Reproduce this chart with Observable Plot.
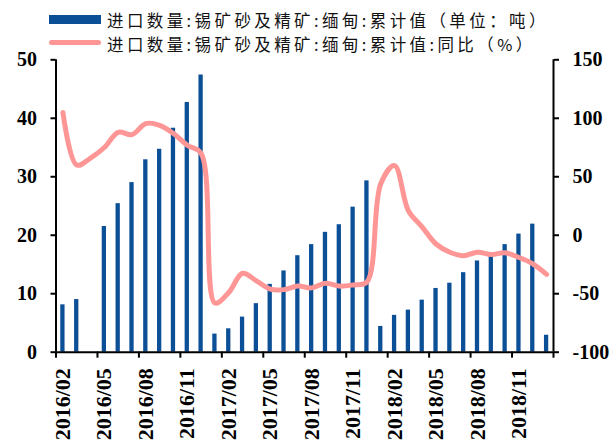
<!DOCTYPE html>
<html><head><meta charset="utf-8">
<script src="https://cdn.jsdelivr.net/npm/d3@7"></script>
<script src="https://cdn.jsdelivr.net/npm/@observablehq/plot@0.6"></script>
<style>
body{margin:0;background:#fff;}
#wrap{position:relative;width:616px;height:445px;overflow:hidden;}
.row{position:absolute;left:0;height:24px;width:616px;}
.sw{position:absolute;}
.lt{position:absolute;left:107px;top:0;font-family:"Noto Sans CJK SC",sans-serif;font-size:16.5px;letter-spacing:3.4px;line-height:24px;color:#111;white-space:nowrap;}
</style></head><body>
<div id="wrap"></div>
<script>
const months = ["2016/02","2016/03","2016/04","2016/05","2016/06","2016/07","2016/08","2016/09","2016/10","2016/11","2016/12",
"2017/01","2017/02","2017/03","2017/04","2017/05","2017/06","2017/07","2017/08","2017/09","2017/10","2017/11","2017/12",
"2018/01","2018/02","2018/03","2018/04","2018/05","2018/06","2018/07","2018/08","2018/09","2018/10","2018/11","2018/12","2019/01"];
const volume = [8.1,9.0,null,21.5,25.4,29.0,32.9,34.7,38.3,42.7,47.4,
3.1,4.0,6.0,8.3,11.6,13.9,16.5,18.4,20.5,21.8,24.8,29.3,
4.4,6.3,7.2,8.9,10.9,11.8,13.6,15.6,16.5,18.4,20.2,21.9,2.9];
const yoy = [105,60,66,75,88,86,95.5,94,87,77,70,
-58,-49,-32.5,-39,-46,-46.5,-43.5,-45,-41,-43.5,-42.5,-40,
44,59.5,21,7,-7.5,-14.5,-17.5,-14.5,-16.5,-15,-19,-24.5,-33.5];
const tickMonths = ["2016/02","2016/05","2016/08","2016/11","2017/02","2017/05","2017/08","2017/11","2018/02","2018/05","2018/08","2018/11"];
const leftTicks = [0,10,20,30,40,50];
const legendLabels = ["进口数量:锡矿砂及精矿:缅甸:累计值（单位：吨）","进口数量:锡矿砂及精矿:缅甸:累计值:同比（%）"];

const barColor = "#0B4F96", lineColor = "#FF9696";
const W = 616, H = 445, mL = 55.5, mR = 63, mT = 59.3, mB = 445 - 351.7;
const step = (W - mL - mR) / months.length;
const toLeft = p => (p + 100) / 5;
const data = months.map((m, i) => ({m, v: volume[i], p: yoy[i]}));

const chart = Plot.plot({
  width: W, height: H, marginLeft: mL, marginRight: mR, marginTop: mT, marginBottom: mB,
  style: {fontFamily: "'Liberation Serif', serif", fontSize: "20px", fontWeight: "bold", color: "#000", background: "transparent", overflow: "visible"},
  x: {type: "band", domain: months, paddingInner: 0.69, paddingOuter: 0.345, round: false},
  y: {domain: [0, 50]},
  marks: [
    Plot.barY(data.filter(d => d.v != null), {x: "m", y: "v", fill: barColor}),
    Plot.line(data, {x: "m", y: d => toLeft(d.p), stroke: lineColor, strokeWidth: 5, curve: "catmull-rom", strokeLinecap: "round", strokeLinejoin: "round"}),
    Plot.ruleY([0], {stroke: "#000", strokeWidth: 2}),
    Plot.ruleX([months[0]], {dx: -step / 2, stroke: "#000", strokeWidth: 2}),
    Plot.ruleX([months[months.length - 1]], {dx: step / 2, stroke: "#000", strokeWidth: 2}),
    Plot.axisY({ticks: leftTicks, anchor: "left", tickSize: 5, tickPadding: 14, strokeWidth: 2, label: null, fontSize: 20}),
    Plot.axisY({ticks: leftTicks, anchor: "right", tickSize: 5, tickPadding: 14, strokeWidth: 2, tickFormat: d => d * 5 - 100, label: null, fontSize: 20}),
    Plot.axisX({ticks: tickMonths, tickSize: 6, strokeWidth: 2, tickFormat: () => "", dx: -step / 2, label: null}),
    Plot.axisX({ticks: [months[months.length - 1]], tickSize: 6, strokeWidth: 2, tickFormat: () => "", dx: step / 2, label: null}),
    Plot.axisX({ticks: tickMonths, tickSize: 0, tickRotate: -90, tickPadding: 16, fontSize: 22, label: null})
  ]
});

const wrap = document.getElementById("wrap");
wrap.appendChild(chart);
const leg = document.createElement("div");
leg.innerHTML = `
<div class="row" style="top:7.5px"><div class="sw" style="left:49px;top:7.5px;width:52px;height:9px;background:${barColor}"></div><div class="lt">${legendLabels[0]}</div></div>
<div class="row" style="top:31.5px"><div class="sw" style="left:49px;top:8px;width:52px;height:5px;border-radius:3px;background:${lineColor}"></div><div class="lt">${legendLabels[1]}</div></div>`;
leg.style.position = "absolute"; leg.style.left = "0"; leg.style.top = "0";
wrap.appendChild(leg);
</script>
</body></html>
